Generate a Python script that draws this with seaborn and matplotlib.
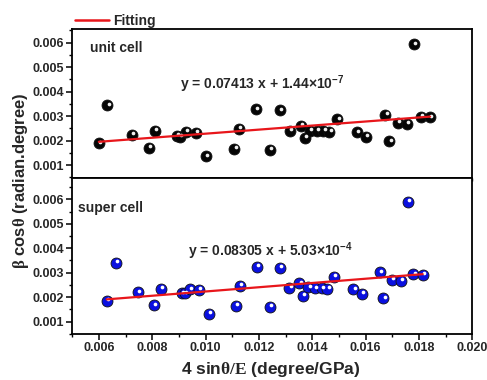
import numpy as np
import pandas as pd
import matplotlib
matplotlib.use("Agg")
import matplotlib.pyplot as plt
import matplotlib.transforms as mtransforms
from matplotlib.ticker import MultipleLocator
from matplotlib.lines import Line2D
import seaborn as sns

# ---------------- data ----------------
unit_x = [0.00506, 0.00540, 0.00638, 0.00707, 0.00731, 0.00818, 0.00831, 0.00855,
          0.00894, 0.00935, 0.01048, 0.01066, 0.01134, 0.01191, 0.01231, 0.01271,
          0.01314, 0.01331, 0.01351, 0.01378, 0.01404, 0.01428, 0.01460, 0.01538,
          0.01575, 0.01652, 0.01668, 0.01702, 0.01738, 0.01767, 0.01795, 0.01831]
unit_y = [0.00189, 0.00344, 0.00223, 0.00171, 0.00239, 0.00219, 0.00216, 0.00236,
          0.00232, 0.00136, 0.00166, 0.00249, 0.00328, 0.00163, 0.00324, 0.00240,
          0.00260, 0.00212, 0.00239, 0.00239, 0.00239, 0.00236, 0.00287, 0.00234,
          0.00216, 0.00305, 0.00197, 0.00272, 0.00268, 0.00593, 0.00298, 0.00295]

super_x = [0.00629, 0.00663, 0.00745, 0.00807, 0.00833, 0.00910, 0.00923, 0.00941,
           0.00975, 0.01013, 0.01114, 0.01129, 0.01191, 0.01241, 0.01279, 0.01314,
           0.01351, 0.01364, 0.01385, 0.01410, 0.01435, 0.01456, 0.01482, 0.01554,
           0.01585, 0.01654, 0.01666, 0.01698, 0.01731, 0.01758, 0.01779, 0.01814]
super_y = [0.00186, 0.00341, 0.00220, 0.00167, 0.00235, 0.00216, 0.00216, 0.00232,
           0.00230, 0.00131, 0.00164, 0.00246, 0.00325, 0.00161, 0.00320, 0.00239,
           0.00257, 0.00206, 0.00240, 0.00236, 0.00236, 0.00233, 0.00284, 0.00232,
           0.00213, 0.00302, 0.00195, 0.00270, 0.00267, 0.00590, 0.00293, 0.00291]

# drawn fit lines (slope, intercept as seen on the picture)
unit_fit = (0.0777, 0.001557)
super_fit = (0.0869, 0.001363)

unit_label = "unit cell"
super_label = "super cell"
unit_eq = r"y = 0.07413 x + 1.44×10$^{-7}$"
super_eq = r"y = 0.08305 x + 5.03×10$^{-4}$"
legend_label = "Fitting"
x_label = r"4 sin$\mathrm{\theta/E}$ (degree/GPa)"
y_label = r"$\mathrm{\beta}$ cos$\mathrm{\theta}$ (radian.degree)"

y_ticks = [0.001, 0.002, 0.003, 0.004, 0.005, 0.006]
x_ticks = [0.006, 0.008, 0.010, 0.012, 0.014, 0.016, 0.018, 0.020]
x_ticks_top = [0.006, 0.008, 0.010, 0.012, 0.014, 0.016, 0.018]

# ---------------- style ----------------
sns.set_theme(style="ticks")
plt.rcParams["font.family"] = ["Liberation Sans", "DejaVu Sans"]
plt.rcParams["font.weight"] = "bold"
plt.rcParams["mathtext.fontset"] = "custom"
plt.rcParams["mathtext.rm"] = "Liberation Serif"
plt.rcParams["mathtext.default"] = "regular"

fig = plt.figure(figsize=(4.87, 3.80), dpi=100)
fig.patch.set_facecolor("white")
ax_top = fig.add_axes([0.1485, 0.5316, 0.8214, 0.3921])
ax_bot = fig.add_axes([0.1485, 0.1211, 0.8214, 0.4105])

RED = "#e8161b"


def draw_panel(ax, xs, ys, fit, color, hl_color, ylim, xlim):
    df = pd.DataFrame({"x": xs, "y": ys})
    sns.scatterplot(data=df, x="x", y="y", ax=ax, s=62, color=color,
                    edgecolor="#111111", linewidth=0.6, zorder=3)
    # highlight to mimic the shaded spheres
    off = mtransforms.offset_copy(ax.transData, fig=fig, x=0.9, y=1.2, units="points")
    ax.scatter(df["x"], df["y"], s=7, color=hl_color, linewidths=0,
               transform=off, zorder=4)
    fx = np.array([min(xs), max(xs)])
    fdf = pd.DataFrame({"x": fx, "y": fit[0] * fx + fit[1]})
    sns.lineplot(data=fdf, x="x", y="y", ax=ax, color=RED, linewidth=1.6,
                 zorder=5)
    ax.set_xlim(*xlim)
    ax.set_ylim(*ylim)
    ax.set_xlabel("")
    ax.set_ylabel("")
    ax.set_yticks(y_ticks)
    ax.yaxis.set_minor_locator(MultipleLocator(0.0005))
    ax.xaxis.set_major_locator(MultipleLocator(0.002))
    ax.xaxis.set_minor_locator(MultipleLocator(0.001))
    ax.yaxis.set_major_formatter(matplotlib.ticker.FormatStrFormatter("%.3f"))
    ax.xaxis.set_major_formatter(matplotlib.ticker.FormatStrFormatter("%.3f"))
    for sp in ax.spines.values():
        sp.set_visible(True)
        sp.set_linewidth(1.3)
        sp.set_color("black")
    ax.tick_params(axis="both", which="major", direction="out", length=4,
                   width=1.1, labelsize=9, color="black", pad=2)
    ax.tick_params(axis="both", which="minor", direction="out", length=2.2,
                   width=1.0, color="black")
    ax.tick_params(top=False, right=False, which="both")
    for lab in ax.get_yticklabels() + ax.get_xticklabels():
        lab.set_fontweight("bold")


draw_panel(ax_top, unit_x, unit_y, unit_fit, "#050505", "#f0f0f0",
           (0.000471, 0.00656), (0.004, 0.020))
draw_panel(ax_bot, super_x, super_y, super_fit, "#0a10e0", "#ffffff",
           (0.000495, 0.00687), (0.005, 0.020))
ax_top.set_xticks(x_ticks_top)
ax_top.tick_params(axis="x", labelbottom=False)
ax_bot.set_xticks(x_ticks)
for lab in ax_bot.get_xticklabels():
    lab.set_fontweight("bold")

# annotations
ax_top.text(0.045, 0.87, unit_label, transform=ax_top.transAxes, fontsize=10,
            fontweight="bold", ha="left", va="center")
ax_top.text(0.27, 0.63, unit_eq, transform=ax_top.transAxes, fontsize=10,
            fontweight="bold", ha="left", va="center")
ax_bot.text(0.015, 0.81, super_label, transform=ax_bot.transAxes, fontsize=10,
            fontweight="bold", ha="left", va="center")
ax_bot.text(0.29, 0.53, super_eq, transform=ax_bot.transAxes, fontsize=10,
            fontweight="bold", ha="left", va="center")

# legend above the top panel
handle = Line2D([], [], color=RED, linewidth=1.8)
fig.legend([handle], [legend_label], loc="center left",
           bbox_to_anchor=(0.155, 0.945), frameon=False,
           prop={"weight": "bold", "size": 10}, handlelength=2.4,
           handletextpad=0.3, borderaxespad=0, borderpad=0)

fig.text(0.555, 0.027, x_label, ha="center", va="center", fontsize=12.5,
         fontweight="bold")
fig.text(0.044, 0.525, y_label, ha="center", va="center", fontsize=12,
         fontweight="bold", rotation=90)

fig.savefig("out.png", dpi=100, facecolor="white")
